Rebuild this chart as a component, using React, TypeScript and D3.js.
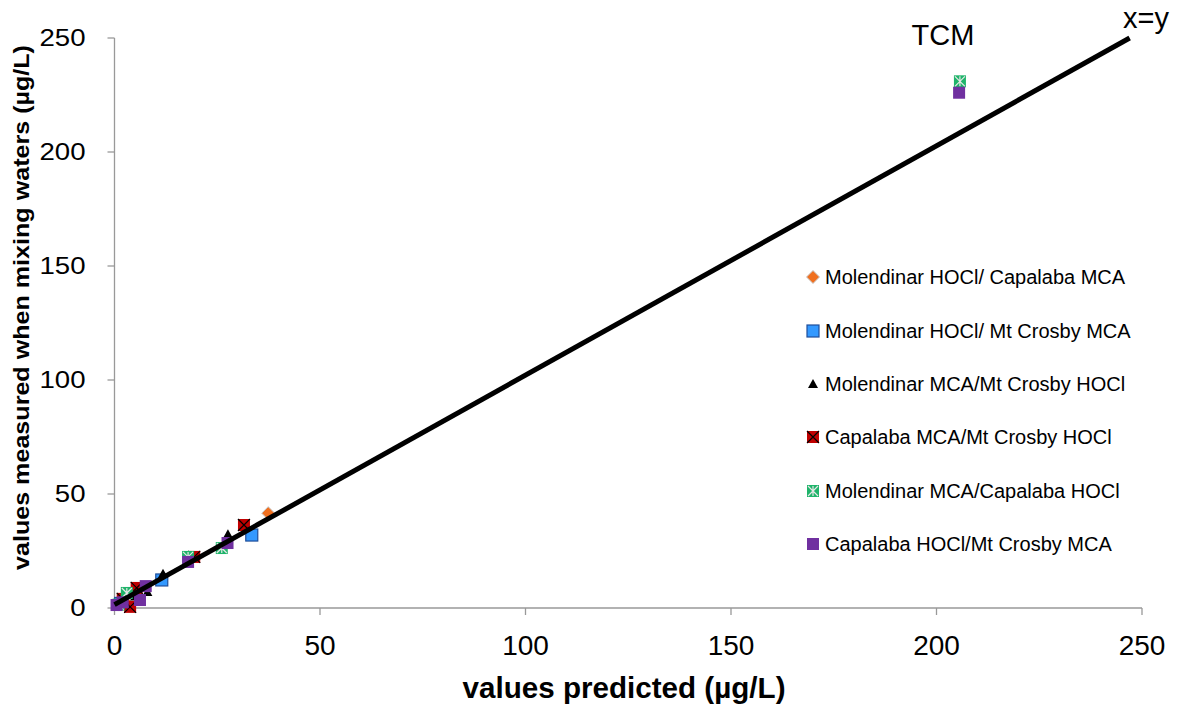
import React from "react";
import * as d3 from "d3";

const W = 1181;
const H = 705;

const xTicks = [0, 50, 100, 150, 200, 250];
const yTicks = [0, 50, 100, 150, 200, 250];

const seriesNames = [
  "Molendinar HOCl/ Capalaba MCA",
  "Molendinar HOCl/ Mt Crosby MCA",
  "Molendinar MCA/Mt Crosby HOCl",
  "Capalaba MCA/Mt Crosby HOCl",
  "Molendinar MCA/Capalaba HOCl",
  "Capalaba HOCl/Mt Crosby MCA",
];

// predicted (x) and measured (y) values per series
const s1x = [37.4, 1.0, 2.5];
const s1y = [41.6, 1.5, 3.0];
const s2x = [33.4, 11.5, 1.5];
const s2y = [32.0, 12.3, 2.0];
const s3x = [11.8, 27.6, 2.0, 5.0, 1.0, 8.0];
const s3y = [15.0, 32.4, 3.0, 5.0, 1.0, 7.0];
const s4x = [31.5, 19.4, 5.4, 3.8, 2.0];
const s4y = [36.4, 22.4, 8.8, 0.5, 4.0];
const s5x = [205.7, 26.1, 17.9, 3.0, 1.0];
const s5y = [231.0, 26.3, 22.4, 6.6, 1.5];
const s6x = [205.5, 27.5, 17.9, 7.6, 6.2, 0.5, 2.0];
const s6y = [226.0, 28.5, 20.2, 9.6, 3.5, 1.3, 2.5];

const lineX = [0, 247];
const lineY = [1.5, 250];

const seriesX = [s1x, s2x, s3x, s4x, s5x, s6x];
const seriesY = [s1y, s2y, s3y, s4y, s5y, s6y];

const x = d3.scaleLinear().domain([0, 250]).range([114.5, 1142]);
const y = d3.scaleLinear().domain([0, 250]).range([608, 38]);

const FONT = "Liberation Sans, Arial, sans-serif";

function Marker({ kind, cx, cy }: { kind: number; cx: number; cy: number }) {
  const s = 12;
  const h = s / 2;
  if (kind === 0) {
    const r = 6.5;
    return (
      <path
        d={`M${cx},${cy - r}L${cx + r},${cy}L${cx},${cy + r}L${cx - r},${cy}Z`}
        fill="#F07020"
        stroke="#c8c8c8"
        strokeWidth={1}
      />
    );
  }
  if (kind === 1) {
    return (
      <rect x={cx - h} y={cy - h} width={s} height={s} fill="#3399FF" stroke="#1F4E9A" strokeWidth={1.2} />
    );
  }
  if (kind === 2) {
    const r = 5;
    return (
      <path d={`M${cx},${cy - r}L${cx + r},${cy + r * 0.8}L${cx - r},${cy + r * 0.8}Z`} fill="#000" />
    );
  }
  if (kind === 3) {
    return (
      <g>
        <rect x={cx - h} y={cy - h} width={s} height={s} fill="#C00000" />
        <path d={`M${cx - h},${cy - h}L${cx + h},${cy + h}M${cx + h},${cy - h}L${cx - h},${cy + h}`} stroke="#000" strokeWidth={1.2} />
      </g>
    );
  }
  if (kind === 4) {
    return (
      <g>
        <rect x={cx - h} y={cy - h} width={s} height={s} fill="#1FB46A" />
        <path
          d={`M${cx - h + 1},${cy - h + 1}L${cx + h - 1},${cy + h - 1}M${cx + h - 1},${cy - h + 1}L${cx - h + 1},${cy + h - 1}M${cx},${cy - h + 1}L${cx},${cy + h - 1}`}
          stroke="#e6e6e6"
          strokeWidth={1.2}
        />
      </g>
    );
  }
  return <rect x={cx - h} y={cy - h} width={s} height={s} fill="#7030A0" />;
}

export default function App() {
  const legendY = [277, 331, 384, 437, 491, 544];
  const drawOrder = [0, 1, 2, 3, 4, 5];
  return (
    <svg width={W} height={H} style={{ position: "absolute", left: 0, top: 0, background: "#fff" }} fontFamily={FONT}>
      {/* axes */}
      <line x1={x(0)} x2={x(0)} y1={y(250)} y2={y(0)} stroke="#999" strokeWidth={1.3} />
      <line x1={x(0)} x2={x(250)} y1={y(0)} y2={y(0)} stroke="#999" strokeWidth={1.3} />
      {yTicks.map((t) => (
        <g key={"yt" + t}>
          <line x1={x(0) - 7} x2={x(0)} y1={y(t)} y2={y(t)} stroke="#999" strokeWidth={1.3} />
          <text
            transform={`translate(${x(0) - 29},${y(t)}) scale(1.2,1)`}
            dy="0.35em"
            textAnchor="end"
            fontSize={23}
            fill="#000"
          >
            {t}
          </text>
        </g>
      ))}
      {xTicks.map((t) => (
        <g key={"xt" + t}>
          <line x1={x(t)} x2={x(t)} y1={y(0)} y2={y(0) + 7} stroke="#999" strokeWidth={1.3} />
          <text x={x(t)} y={y(0) + 37} dy="0.35em" textAnchor="middle" fontSize={28} fill="#000">
            {t}
          </text>
        </g>
      ))}
      <text
        x={624}
        y={688}
        dy="0.35em"
        textAnchor="middle"
        fontSize={29}
        fontWeight="bold"
        fill="#000"
        textLength={323}
        lengthAdjust="spacingAndGlyphs"
      >
        values predicted (µg/L)
      </text>
      <text
        transform={`translate(21,${(45 + 570) / 2}) rotate(-90)`}
        textAnchor="middle"
        dy="0.35em"
        fontSize={22}
        fontWeight="bold"
        fill="#000"
        textLength={525}
        lengthAdjust="spacingAndGlyphs"
      >
        values measured when mixing waters (µg/L)
      </text>

      {/* points */}
      {drawOrder.map((si) => (
        <g key={"s" + si}>
          {seriesX[si].map((vx, i) => (
            <Marker key={i} kind={si} cx={x(vx)} cy={y(seriesY[si][i])} />
          ))}
        </g>
      ))}

      {/* x=y line */}
      <line x1={x(lineX[0])} y1={y(lineY[0])} x2={x(lineX[1])} y2={y(lineY[1])} stroke="#000" strokeWidth={5} />

      <text x={943} y={45} textAnchor="middle" fontSize={29} fill="#000">
        TCM
      </text>
      <text x={1146} y={28} textAnchor="middle" fontSize={29} fill="#000">
        x=y
      </text>

      {/* legend */}
      {seriesNames.map((n, i) => (
        <g key={"l" + i}>
          <Marker kind={i} cx={813} cy={legendY[i]} />
          <text x={825} y={legendY[i]} dy="0.35em" fontSize={20} fill="#000">
            {n}
          </text>
        </g>
      ))}
    </svg>
  );
}
